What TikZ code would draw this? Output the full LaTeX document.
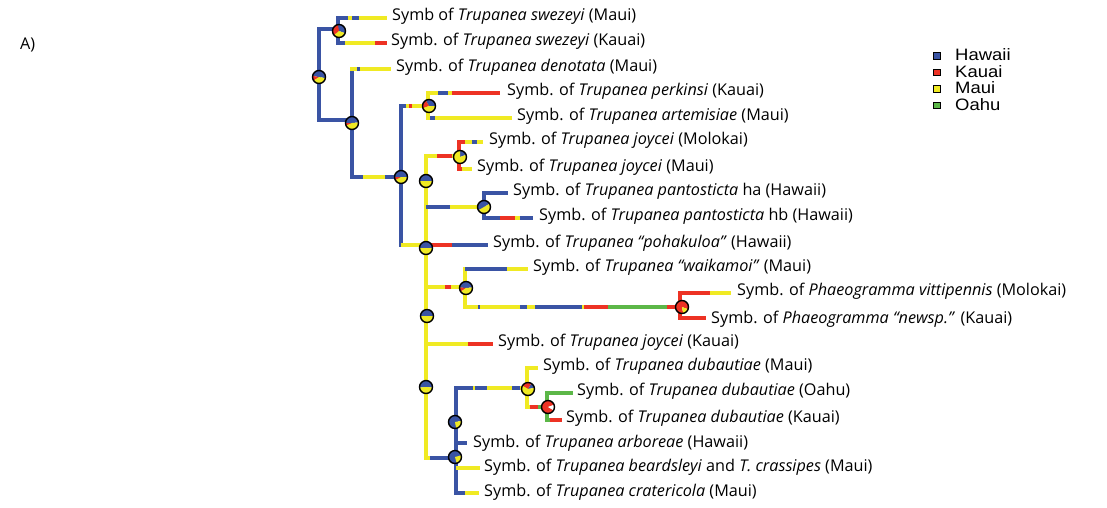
\documentclass[tikz,border=0pt]{standalone}
\usepackage{fontspec}
\usepackage{graphicx}
\setmainfont{Open Sans}
\newfontfamily\legfont{Liberation Sans}
\definecolor{cb}{RGB}{58,84,164}
\definecolor{cr}{RGB}{237,50,36}
\definecolor{cy}{RGB}{240,234,35}
\definecolor{cg}{RGB}{92,183,72}
\tikzset{
  branch/.style={line width=4.5pt},
  lab/.style={anchor=base west,inner sep=0pt,font=\fontsize{16.2}{19}\selectfont},
  legtxt/.style={anchor=west,inner sep=0pt,font=\legfont\fontsize{16.5}{19}\selectfont},
  legbox/.style={draw=black,line width=1.2pt,minimum size=6.5pt,inner sep=0pt}
}
\newcommand\hbr[3]{\foreach \c/\e [remember=\e as \s (initially #2)] in {#3} {\draw[branch,\c] (\s,#1) -- (\e,#1);}}
\newcommand\vbr[4]{\draw[branch,#4,line cap=rect] (#1,#2) -- (#1,#3);}
% pie slices: angles measured counter-clockwise as seen (picture y axis points down)
\newcommand\pienode[2]{\begin{scope}[shift={(#1)}]
  \foreach \col/\a/\b in {#2} {\fill[\col] (0,0) -- ({6.5*cos(\a)},{-6.5*sin(\a)}) arc[start angle=-\a,end angle=-\b,radius=6.5] -- cycle;}
  \draw[line width=1.4pt] (0,0) circle[radius=6.5];\end{scope}}
\begin{document}
\begin{tikzpicture}[x=1pt,y=-1pt]
\useasboundingbox[fill=white] (0,0) rectangle (1107,507);
% verticals
\vbr{338}{18}{43}{cb}
\vbr{319}{29}{120}{cb}
\vbr{352}{69}{177}{cb}
\vbr{401}{106}{245}{cb}
\vbr{428}{93}{118}{cy}
\vbr{426}{156}{458}{cy}
\vbr{459}{142}{169}{cr}
\vbr{484}{193}{218}{cb}
\vbr{465}{269}{307}{cy}
\vbr{680}{293}{318}{cr}
\vbr{456}{388}{493}{cb}
\vbr{527}{368}{407}{cy}
\vbr{547}{393}{420}{cg}
% horizontals
\hbr{18}{338}{cb/348,cy/352,cb/359,cy/387}
\hbr{43}{338}{cb/345,cy/375,cr/387}
\hbr{29}{319}{cb/338}
\hbr{120}{319}{cb/352}
\hbr{69}{350}{cy/357,cb/360,cy/391}
\hbr{177}{352}{cb/363,cy/385,cb/401}
\hbr{106}{401}{cb/406,cy/409,cr/412,cy/428}
\hbr{93}{428}{cy/438,cb/448,cy/452,cr/500}
\hbr{118}{428}{cy/430,cb/435,cy/512}
\hbr{245}{401}{cy/426}
\hbr{245}{426}{cr/452,cb/488}
\hbr{156}{426}{cy/437,cr/452,cy/459}
\hbr{142}{459}{cr/465,cy/472,cb/477,cy/483}
\hbr{169}{459}{cr/462,cy/472}
\hbr{207}{426}{cb/450,cy/478,cb/484}
\hbr{193}{484}{cb/508}
\hbr{218}{484}{cb/500,cr/515,cy/520,cb/533}
\hbr{287}{426}{cy/445,cr/451,cy/465}
\hbr{269}{465}{cb/507,cy/528}
\hbr{307}{465}{cy/478,cb/480,cy/520,cb/527,cy/535,cb/582,cy/584,cr/608,cg/667,cr/680}
\hbr{293}{680}{cr/710,cy/731}
\hbr{318}{680}{cr/706}
\hbr{344}{426}{cy/468,cr/493}
\hbr{458}{426}{cy/430,cb/456}
\hbr{388}{456}{cb/473,cy/475,cb/487,cy/512,cb/520,cy/528}
\hbr{368}{527}{cy/538}
\hbr{407}{527}{cy/530,cr/538,cg/548}
\hbr{393}{547}{cg/573}
\hbr{420}{547}{cg/550,cr/562}
\hbr{443}{456}{cb/467}
\hbr{468}{456}{cy/480}
\hbr{493}{456}{cb/465,cy/479}
% node coordinates
\coordinate (p1) at (339,31);
\coordinate (p2) at (319,77);
\coordinate (p3) at (352,123);
\coordinate (p4) at (401,177);
\coordinate (p5) at (429,106);
\coordinate (p6) at (460,157);
\coordinate (p7) at (426,181);
\coordinate (p8) at (484,207);
\coordinate (p9) at (426,248);
\coordinate (p10) at (466,288);
\coordinate (p11) at (682,307);
\coordinate (p12) at (427,316);
\coordinate (p13) at (426,387);
\coordinate (p14) at (528,389);
\coordinate (p15) at (548,407);
\coordinate (p16) at (455,422);
\coordinate (p17) at (455,457);
% pies
\pienode{p1}{cb/-20/100,cr/100/220,cy/220/340}
\pienode{p2}{cb/-10/170,cr/170/215,cy/215/350}
\pienode{p3}{cb/5/180,cr/180/205,cy/205/365}
\pienode{p4}{cb/0/180,cr/180/210,cy/210/360}
\pienode{p5}{cb/0/120,cr/120/200,cy/200/360}
\pienode{p6}{cb/20/90,cy/90/380}
\pienode{p7}{cb/0/180,cy/180/360}
\pienode{p8}{cb/30/210,cy/210/390}
\pienode{p9}{cb/0/180,cy/180/360}
\pienode{p10}{cb/5/175,cr/175/215,cy/215/365}
\pienode{p11}{cr/-20/280,cy/280/340}
\pienode{p12}{cb/0/180,cy/180/360}
\pienode{p13}{cb/-5/185,cy/185/355}
\pienode{p14}{cb/10/60,cr/60/150,cy/150/370}
\pienode{p15}{cr/20/330,white/330/380}
\pienode{p16}{cb/10/280,cy/280/370}
\pienode{p17}{cb/15/285,cy/285/375}
% labels
\node[lab] (t1) at (392,20.5) {Symb of \textit{Trupanea swezeyi} (Maui)};
\node[lab] (t2) at (391,45.5) {Symb. of \textit{Trupanea swezeyi} (Kauai)};
\node[lab] (t3) at (396,71.5) {Symb. of \textit{Trupanea denotata} (Maui)};
\node[lab] (t4) at (507,95.5) {Symb. of \textit{Trupanea perkinsi} (Kauai)};
\node[lab] (t5) at (517,120.5) {Symb. of \textit{Trupanea artemisiae} (Maui)};
\node[lab] (t6) at (489,144.5) {Symb. of \textit{Trupanea joycei} (Molokai)};
\node[lab] (t7) at (477,171.5) {Symb. of \textit{Trupanea joycei} (Maui)};
\node[lab] (t8) at (513,195.5) {Symb. of \textit{Trupanea pantosticta} ha (Hawaii)};
\node[lab] (t9) at (539,220.5) {Symb. of \textit{Trupanea pantosticta} hb (Hawaii)};
\node[lab] (t10) at (493,247.5) {Symb. of \textit{Trupanea “pohakuloa”} (Hawaii)};
\node[lab] (t11) at (533,271.5) {Symb. of \textit{Trupanea “waikamoi”} (Maui)};
\node[lab] (t12) at (737,295.5) {Symb. of \textit{Phaeogramma vittipennis} (Molokai)};
\node[lab] (t13) at (711,323.5) {Symb. of \textit{Phaeogramma “newsp.”} (Kauai)};
\node[lab] (t14) at (498,346.5) {Symb. of \textit{Trupanea joycei} (Kauai)};
\node[lab] (t15) at (543,370.5) {Symb. of \textit{Trupanea dubautiae} (Maui)};
\node[lab] (t16) at (577,395.5) {Symb. of \textit{Trupanea dubautiae} (Oahu)};
\node[lab] (t17) at (566,422.5) {Symb. of \textit{Trupanea dubautiae} (Kauai)};
\node[lab] (t18) at (473,447.5) {Symb. of \textit{Trupanea arboreae} (Hawaii)};
\node[lab] (t19) at (484,471.5) {Symb. of \textit{Trupanea beardsleyi} and \textit{T. crassipes} (Maui)};
\node[lab] (t20) at (484,496.5) {Symb. of \textit{Trupanea cratericola} (Maui)};
\node[lab] (A) at (20,49) {A)};
% legend
\node[legbox,fill=cb] (l1) at (937,56) {};
\node[legbox,fill=cr] (l2) at (937,72.5) {};
\node[legbox,fill=cy] (l3) at (937,89) {};
\node[legbox,fill=cg] (l4) at (937,105.5) {};
\node[legtxt] (lt1) at (955,55) {\scalebox{1.12}[1]{Hawaii}};
\node[legtxt] (lt2) at (955,71.5) {\scalebox{1.12}[1]{Kauai}};
\node[legtxt] (lt3) at (955,88) {\scalebox{1.12}[1]{Maui}};
\node[legtxt] (lt4) at (955,104.5) {\scalebox{1.12}[1]{Oahu}};
\end{tikzpicture}
\end{document}
